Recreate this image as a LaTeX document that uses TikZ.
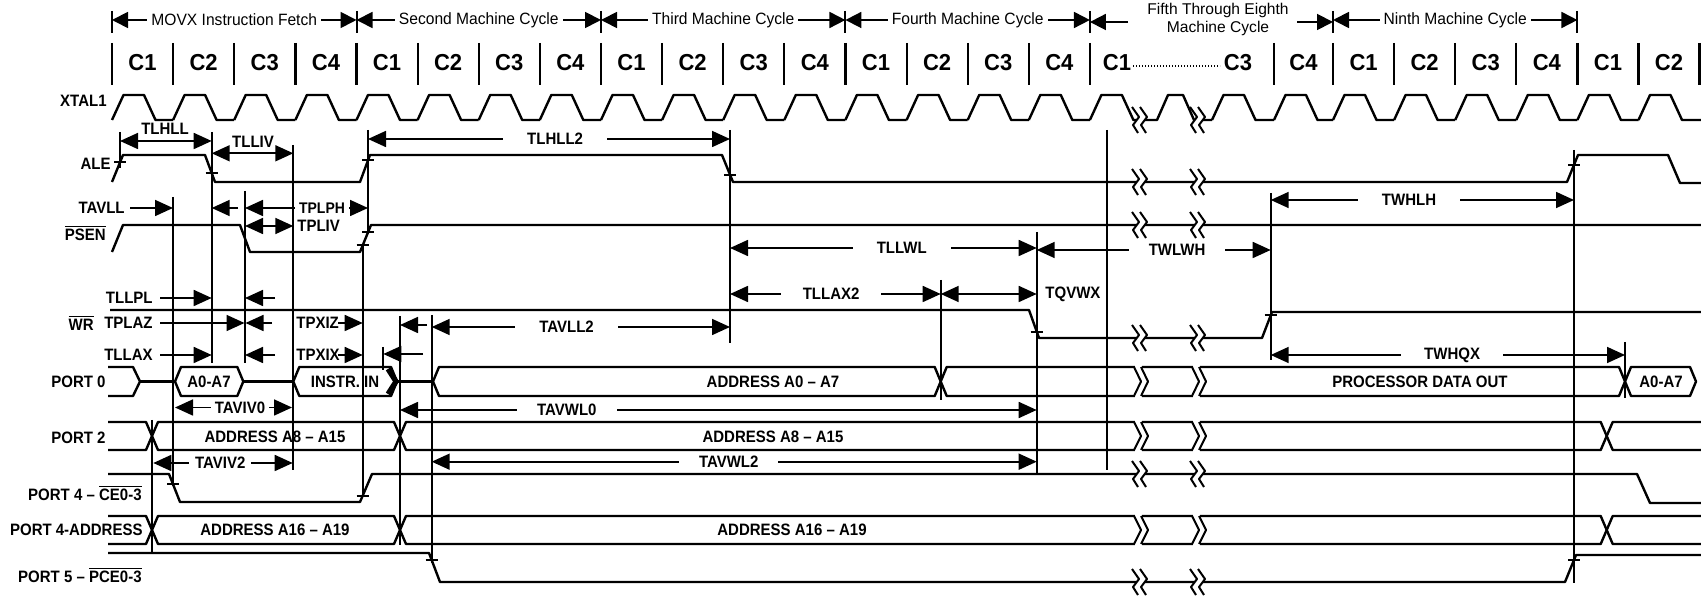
\documentclass[tikz,border=0pt]{standalone}
\usepackage{fontspec}
\setmainfont{Liberation Sans}
\usetikzlibrary{arrows.meta}
\newbox\stbox
\newcommand\ovl[1]{$\overline{\hbox{#1}}$}
% single-line break mark: x, y
\newcommand\brkS[2]{%
  \fill[white] ({#1-3},{#2-2.5}) rectangle ({#1+4.5},{#2+2.5});
  \draw[sig,line width=1pt] ({#1-8},{#2-13}) -- ({#1-1},{#2-3}) -- ({#1-7},{#2+5}) -- ({#1-2},{#2+13});
  \draw[sig,line width=1pt] ({#1},{#2-13}) -- ({#1+7},{#2-3}) -- ({#1+1},{#2+5}) -- ({#1+6},{#2+13});
}
% bus break mark: x, ytop, ybottom
\newcommand\brkB[3]{%
  \fill[white] ({#1-5},{#2-2}) rectangle ({#1+1.5},{#3+2});
  \draw[sig,line width=1pt] ({#1-6},#2) -- ({#1+1},{(#2+#3)/2}) -- ({#1-6},#3);
  \draw[sig,line width=1pt] ({#1+1},#2) -- ({#1+8},{(#2+#3)/2}) -- ({#1+1},#3);
}
% bus hexagon: x1, x2, ytop, ybottom
\newcommand\bushex[4]{\draw[sig] (#1,{(#3+#4)/2}) -- ({#1+6},#3) -- ({#2-6},#3) -- (#2,{(#3+#4)/2}) -- ({#2-6},#4) -- ({#1+6},#4) -- cycle;}
\begin{document}
\begin{tikzpicture}[x=0.5pt,y=-0.5pt,
  vstretch/.style={execute at begin node={\setbox\stbox=\hbox\bgroup},
                   execute at end node={\egroup\scalebox{1}[#1]{\box\stbox}}},
  sig/.style={line width=1.2pt,line join=round},
  vl/.style={line width=1pt},
  tk/.style={line width=1pt},
  cbar/.style={line width=1.1pt},
  hd/.style={line width=0.9pt,{Triangle[length=8pt,width=8pt]}-{Triangle[length=8pt,width=8pt]}},
  hdR/.style={line width=0.9pt,-{Triangle[length=8pt,width=8pt]}},
  ta/.style={line width=0.85pt,{Triangle[length=9pt,width=8pt]}-{Triangle[length=9pt,width=8pt]}},
  tr/.style={line width=0.85pt,-{Triangle[length=9pt,width=8pt]}},
  lab/.style={font=\fontsize{7.5}{9}\selectfont\bfseries,inner sep=1pt,vstretch=1.1},
  gl/.style={lab,fill=white,inner xsep=#1},
  gl/.default=6pt,
  hdf/.style={font=\fontsize{7.8}{9}\selectfont,fill=white,inner xsep=2pt,inner ysep=1pt},
  hdt/.style={hdf,vstretch=1.05},
  ct/.style={font=\fontsize{11}{13}\selectfont\bfseries,vstretch=1.05},
  sl/.style={lab,anchor=east},
  bt/.style={lab}]
\useasboundingbox (0,0) rectangle (1701,597);

% ---------------- header ----------------
\foreach \x in {112,356.5,601,845.4,1089.9,1333,1577.4} \draw[vl] (\x,11) -- (\x,33);
\draw[hd] (112,20) -- (356.5,20) node[midway,hdt] (h1) {MOVX Instruction Fetch};
\draw[hd] (356.5,20) -- (601,20) node[midway,hdt] (h2) {Second Machine Cycle};
\draw[hd] (601,20) -- (845.4,20) node[midway,hdt] (h3) {Third Machine Cycle};
\draw[hd] (845.4,20) -- (1089.9,20) node[midway,hdt] (h4) {Fourth Machine Cycle};
\draw[hdR] (1128,22) -- (1089.9,22);
\draw[hdR] (1297,22) -- (1333,22);
\node[hdf,fill=none,align=center] (h5) at (1218,19) {Fifth Through Eighth\\Machine Cycle};
\draw[hd] (1333,20) -- (1577.4,20) node[midway,hdt] (h6) {Ninth Machine Cycle};

% ---------------- C row ----------------
\foreach \x in {112,173.1,234.2,295.4,356.5,417.6,478.7,539.8,601,662.1,723.2,784.3,845.4,906.6,967.7,1028.8,1089.9,1274,1333,1394.1,1455.2,1516.3,1577.4,1638.5,1699.5}
  \draw[cbar] (\x,43) -- (\x,85);
\foreach \x/\t in {142.55/C1,203.65/C2,264.8/C3,325.95/C4,387.05/C1,448.15/C2,509.25/C3,570.4/C4,631.55/C1,692.65/C2,753.75/C3,814.85/C4,876/C1,937.15/C2,998.25/C3,1059.35/C4,1117/C1,1238/C3,1303.5/C4,1363.55/C1,1424.65/C2,1485.75/C3,1546.85/C4,1607.95/C1,1669/C2}
  \node[ct] at (\x,63) {\t};
\draw[line width=0.8pt,dash pattern=on 0.6pt off 0.9pt] (1133,66) -- (1220,66);

% ---------------- vertical timing lines ----------------
\draw[vl] (120,132) -- (120,168);
\draw[vl] (211.7,132) -- (211.7,363);
\draw[vl] (173,197) -- (173,486);
\draw[vl] (245,191) -- (245,363);
\draw[vl] (293.3,145) -- (293.3,470);
\draw[vl] (362.7,245) -- (362.7,497);
\draw[vl] (368,130) -- (368,234);
\draw[vl] (383.3,347) -- (383.3,370);
\draw[vl] (400,316) -- (400,545);
\draw[vl] (431.7,315) -- (431.7,563);
\draw[vl] (730,130) -- (730,343);
\draw[vl] (940.7,280) -- (940.7,400);
\draw[vl] (1036.7,232) -- (1036.7,475);
\draw[vl] (1107,130) -- (1107,470);
\draw[vl] (1270.7,193) -- (1270.7,360);
\draw[vl] (1574,150) -- (1574,583);
\draw[vl] (1625,342) -- (1625,398);
\draw[vl] (152,420) -- (152,552);

% ---------------- signals ----------------
% XTAL1
\foreach \s/\e in {112/173.1,173.1/234.2,234.2/295.4,295.4/356.5,356.5/417.6,417.6/478.7,478.7/539.8,539.8/601,601/662.1,662.1/723.2,723.2/784.3,784.3/845.4,845.4/906.6,906.6/967.7,967.7/1028.8,1028.8/1089.9,1212/1274,1274/1333,1333/1394.1,1394.1/1455.2,1455.2/1516.3,1516.3/1577.4,1577.4/1638.5,1638.5/1701}
  \draw[sig] (\s,120) -- ({\s+11.5},95) -- ({\s+32},95) -- ({\s+43.5},120) -- (\e,120);
\draw[sig] (1089.9,120) -- (1101.4,95) -- (1121.9,95) -- (1133.4,120) -- (1157,120)
  -- (1168,95) -- (1183,95) -- (1194,120) -- (1212,120);
% ALE
\draw[sig] (112,182) -- (123,155) -- (205,155) -- (215,182) -- (360,182) -- (370,155) -- (722,155) -- (733,182) -- (1567,182) -- (1578,155) -- (1668,155) -- (1680,183) -- (1701,183);
% PSEN
\draw[sig] (112,252) -- (123,225) -- (240,225) -- (250,252) -- (360,252) -- (371,225) -- (1701,225);
% WR
\draw[sig] (110,310) -- (1029,310) -- (1039,338) -- (1262,338) -- (1272,312) -- (1701,312);
% PORT 0
\draw[sig] (108,367) -- (133,367) -- (140,381.5) -- (133,396) -- (108,396);
\draw[sig] (140,381.5) -- (175,381.5);
\bushex{175}{243.3}{367}{396}
\draw[sig] (243.3,381.5) -- (293.3,381.5);
\bushex{293.3}{397}{367}{396}
\draw[line width=2.6pt] (388,369) -- (396,381.5) -- (388,394);
\draw[sig] (397,381.5) -- (433,381.5);
\bushex{433}{940.7}{367}{396}
\bushex{940.7}{1625}{367}{396}
\bushex{1625}{1696}{367}{396}
% PORT 2
\draw[sig] (108,422) -- (146,422) -- (152,436) -- (146,450) -- (108,450);
\bushex{152}{400}{422}{450}
\bushex{400}{1606.7}{422}{450}
\draw[sig] (1701,422) -- (1612.7,422) -- (1606.7,436) -- (1612.7,450) -- (1701,450);
% PORT 4 - CE
\draw[sig] (108,474) -- (169,474) -- (180,502) -- (360,502) -- (372,474) -- (1637,474) -- (1650,503) -- (1701,503);
% PORT 4 - ADDRESS
\draw[sig] (108,516) -- (146,516) -- (152,530) -- (146,544) -- (108,544);
\bushex{152}{400}{516}{544}
\bushex{400}{1606.7}{516}{544}
\draw[sig] (1701,516) -- (1612.7,516) -- (1606.7,530) -- (1612.7,544) -- (1701,544);
% PORT 5
\draw[sig] (108,553) -- (429,553) -- (440,582) -- (1565,582) -- (1576,555) -- (1701,555);

% ---------------- crossing ticks ----------------
\foreach \x/\y in {120/162.4,211.7/173,368/160.4,730/174.6,1574/164.8,362.7/245.4,368/232.4,1036.7/331.6,1270.7/315.4,173/484,362.7/495.7,431.7/560,1574/560}
  \draw[tk] (\x-6,\y) -- (\x+6,\y);

% ---------------- break marks ----------------
\foreach \x in {1140,1198} {
  \brkS{\x}{120}
  \brkS{\x}{182}
  \brkS{\x}{225}
  \brkS{\x}{338}
  \brkB{\x}{367}{396}
  \brkB{\x}{422}{450}
  \brkS{\x}{474}
  \brkB{\x}{516}{544}
  \brkS{\x}{582}
}

% ---------------- signal labels ----------------
\node[sl] (lx) at (109,101) {XTAL1};
\node[sl] (la) at (113,164) {ALE};
\node[sl] (lp) at (108,233) {\ovl{PSEN}};
\node[sl] (lw) at (96,323) {\ovl{WR}};
\node[sl] (l0) at (108,382) {PORT 0};
\node[sl] (l2) at (108,438) {PORT 2};
\node[sl] (l4c) at (144,493) {PORT 4 -- \ovl{CE0-3}};
\node[sl] (l4a) at (145,530) {PORT 4-ADDRESS};
\node[sl] (l5) at (144,575) {PORT 5 -- \ovl{PCE0-3}};

% ---------------- bus labels ----------------
\node[bt] (b1) at (209,382) {A0-A7};
\node[bt] (b2) at (345,382) {INSTR. IN};
\node[bt] (b3) at (773,382) {ADDRESS A0 -- A7};
\node[bt] (b4) at (1420,382) {PROCESSOR DATA OUT};
\node[bt] (b5) at (1661,382) {A0-A7};
\node[bt] (b6) at (275,437) {ADDRESS A8 -- A15};
\node[bt] (b7) at (773,437) {ADDRESS A8 -- A15};
\node[bt] (b8) at (275,530) {ADDRESS A16 -- A19};
\node[bt] (b9) at (792,530) {ADDRESS A16 -- A19};

% ---------------- timing arrows ----------------
\draw[ta] (120,141) -- (211.7,141);
\node[lab,anchor=south] (t1) at (165,137) {TLHLL};
\draw[ta] (211.7,153.3) -- (293.3,153.3);
\node[lab,anchor=south] (t2) at (253,150) {TLLIV};
\draw[ta] (368,139) -- (730,139) node[pos=0.517,gl=12pt] (t3) {TLHLL2};

\node[sl] (t4) at (127,208) {TAVLL};
\draw[tr] (130,208) -- (173,208);
\draw[tr] (238,208) -- (211.7,208);
\draw[ta] (245,208) -- (368,208) node[pos=0.626,gl=2pt,font=\fontsize{7}{8}\selectfont\bfseries] (t5) {TPLPH};
\draw[ta] (245,226) -- (293.3,226);
\node[lab,anchor=west] (t6) at (295,226) {TPLIV};

\node[sl] (t7) at (155,298) {TLLPL};
\draw[tr] (160,298) -- (211.7,298);
\draw[tr] (275,298) -- (245,298);
\node[sl] (t8) at (155,323) {TPLAZ};
\draw[tr] (160,323) -- (244.5,323);
\draw[tr] (272,323) -- (245.5,323);
\node[sl] (t9) at (155,355) {TLLAX};
\draw[tr] (160,355) -- (211.7,355);
\draw[tr] (275,355) -- (245,355);

\node[lab,anchor=west] (t10) at (294,323) {TPXIZ};
\draw[tr] (338,323) -- (362.7,323);
\draw[tr] (427,325) -- (400,325);
\node[lab,anchor=west] (t11) at (294,355) {TPXIX};
\draw[tr] (338,355) -- (362.7,355);
\draw[tr] (423,354) -- (383.3,354);

\draw[ta] (431.7,327) -- (730,327) node[pos=0.452,gl=12pt] (t12) {TAVLL2};
\draw[ta] (175,407.5) -- (292,407.5) node[pos=0.556,gl=2pt] (t13) {TAVIV0};
\draw[ta] (153.3,463) -- (292.7,463) node[pos=0.48,gl=3pt] (t14) {TAVIV2};
\draw[ta] (400,410) -- (1036.7,410) node[pos=0.262,gl=10pt] (t15) {TAVWL0};
\draw[ta] (431.7,461.7) -- (1036.7,461.7) node[pos=0.491,gl=10pt] (t16) {TAVWL2};
\draw[ta] (730,248) -- (1036.7,248) node[pos=0.56,gl=12pt] (t17) {TLLWL};
\draw[ta] (730,294) -- (940.7,294) node[pos=0.48,gl=11pt] (t18) {TLLAX2};
\draw[ta] (940.7,294) -- (1036.7,294);
\node[lab,anchor=west] (t19) at (1043,294) {TQVWX};
\draw[ta] (1036.7,250) -- (1270.7,250) node[pos=0.6,gl=10pt] (t20) {TWLWH};
\draw[ta] (1270.7,200) -- (1574,200) node[pos=0.456,gl=12pt] (t21) {TWHLH};
\draw[ta] (1270.7,355) -- (1625,355) node[pos=0.512,gl=11.5pt] (t22) {TWHQX};
\end{tikzpicture}
\end{document}
